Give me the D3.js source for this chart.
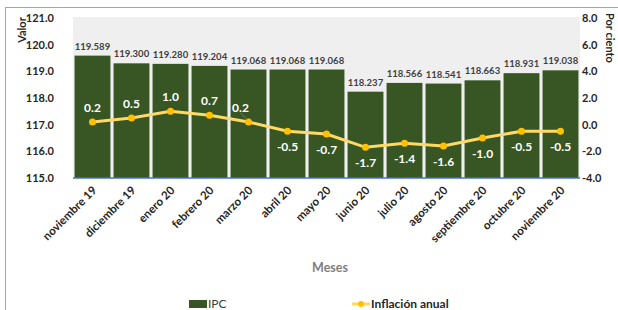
<!DOCTYPE html>
<html>
<head>
<meta charset="utf-8">
<script src="https://cdn.jsdelivr.net/npm/d3@7"></script>
<style>
  body { margin: 0; background: #fff; }
  svg { font-family: Lato, "Open Sans", sans-serif; }
</style>
</head>
<body>
<div id="chart"></div>
<script>
// chart data
const months = ['noviembre 19', 'diciembre 19', 'enero 20', 'febrero 20', 'marzo 20', 'abril 20',
  'mayo 20', 'junio 20', 'julio 20', 'agosto 20', 'septiembre 20', 'octubre 20', 'noviembre 20'];
const ipc = [119.589, 119.300, 119.280, 119.204, 119.068, 119.068, 119.068, 118.237, 118.566,
  118.541, 118.663, 118.931, 119.038];
const inflacion = [0.2, 0.5, 1.0, 0.7, 0.2, -0.5, -0.7, -1.7, -1.4, -1.6, -1.0, -0.5, -0.5];
const leftTicks = [115, 116, 117, 118, 119, 120, 121];
const rightTicks = [-4, -2, 0, 2, 4, 6, 8];

const width = 618, height = 310;
const margin = {top: 18, right: 38, bottom: 132, left: 73};

// plain hyphen as minus sign, like the original
const locale = d3.formatLocale({decimal: '.', thousands: ',', grouping: [3], currency: ['', ''], minus: '-'});
const fmt1 = locale.format('.1f');
const fmt3 = locale.format('.3f');

const svg = d3.select('#chart').append('svg')
  .attr('width', width)
  .attr('height', height);

// outer frame (only left and top edges visible in crop)
svg.append('rect')
  .attr('x', 5.5).attr('y', 7.5)
  .attr('width', 640).attr('height', 340)
  .attr('fill', 'none')
  .attr('stroke', '#a6a6a6');

const x = d3.scaleBand()
  .domain(months)
  .range([margin.left, width - margin.right])
  .paddingInner(0.08)
  .paddingOuter(0.04);

const y = d3.scaleLinear().domain([115, 121]).range([height - margin.bottom, margin.top]);
const y2 = d3.scaleLinear().domain([-4, 8]).range([height - margin.bottom, margin.top]);

// plot background
svg.append('rect')
  .attr('x', margin.left).attr('y', margin.top - 1)
  .attr('width', width - margin.right - margin.left)
  .attr('height', height - margin.bottom - margin.top + 1)
  .attr('fill', '#efefef');

// bars
svg.append('g').selectAll('rect')
  .data(ipc)
  .enter().append('rect')
  .attr('x', (d, i) => x(months[i]))
  .attr('y', d => y(d))
  .attr('width', x.bandwidth())
  .attr('height', d => y(115) - y(d))
  .attr('fill', '#375623');

// bar labels
svg.append('g').selectAll('text')
  .data(ipc)
  .enter().append('text')
  .attr('x', (d, i) => x(months[i]) + x.bandwidth() / 2)
  .attr('y', d => y(d) - 6)
  .attr('text-anchor', 'middle')
  .attr('font-size', 9.5)
  .attr('font-weight', 'bold')
  .attr('fill', '#404040')
  .text(d => fmt3(d));

// baseline
svg.append('line')
  .attr('x1', margin.left).attr('x2', width - margin.right)
  .attr('y1', y(115)).attr('y2', y(115))
  .attr('stroke', '#4472c4')
  .attr('stroke-width', 1.5);

// left axis
const leftAxis = svg.append('g')
  .attr('transform', `translate(${margin.left - 16},0)`)
  .call(d3.axisLeft(y).tickValues(leftTicks).tickFormat(fmt1).tickSize(0));
leftAxis.select('.domain').remove();
leftAxis.selectAll('text')
  .attr('font-family', 'Lato, sans-serif')
  .attr('font-size', 11)
  .attr('font-weight', 'bold')
  .attr('fill', '#262626');

// right axis
const rightAxis = svg.append('g')
  .attr('transform', `translate(${width - margin.right},0)`)
  .call(d3.axisRight(y2).tickValues(rightTicks).tickFormat(fmt1).tickSize(0));
rightAxis.select('.domain').remove();
rightAxis.selectAll('text')
  .attr('x', 2)
  .attr('font-family', 'Lato, sans-serif')
  .attr('font-size', 11)
  .attr('font-weight', 'bold')
  .attr('fill', '#262626');

// month labels
svg.append('g').selectAll('text')
  .data(months)
  .enter().append('text')
  .attr('transform', d => `translate(${x(d) + x.bandwidth() / 2 + 5},${y(115) + 13}) rotate(-45)`)
  .attr('text-anchor', 'end')
  .attr('font-size', 11.5)
  .attr('font-weight', 'bold')
  .attr('fill', '#262626')
  .text(d => d);

// line series
const line = d3.line()
  .x((d, i) => x(months[i]) + x.bandwidth() / 2)
  .y(d => y2(d));

svg.append('path')
  .datum(inflacion)
  .attr('d', line)
  .attr('fill', 'none')
  .attr('stroke', '#ffd966')
  .attr('stroke-width', 3);

svg.append('g').selectAll('circle')
  .data(inflacion)
  .enter().append('circle')
  .attr('cx', (d, i) => x(months[i]) + x.bandwidth() / 2)
  .attr('cy', d => y2(d))
  .attr('r', 3.5)
  .attr('fill', '#ffc000');

// leader line for marzo label
const mx = x(months[4]) + x.bandwidth() / 2;
svg.append('line')
  .attr('x1', mx - 1).attr('y1', y2(inflacion[4]) - 2)
  .attr('x2', mx - 8).attr('y2', y2(inflacion[4]) - 9)
  .attr('stroke', '#7f7f7f')
  .attr('stroke-width', 0.8);

// line labels
svg.append('g').selectAll('text')
  .data(inflacion)
  .enter().append('text')
  .attr('x', (d, i) => x(months[i]) + x.bandwidth() / 2 + (i === 4 ? -8 : 0))
  .attr('y', (d, i) => d >= 0 ? y2(d) - 10 : y2(d) + 20)
  .attr('text-anchor', 'middle')
  .attr('font-size', 12)
  .attr('font-weight', 'bold')
  .attr('fill', '#ffffff')
  .text(d => fmt1(d));

// axis titles
svg.append('text')
  .attr('transform', 'translate(26,30) rotate(-90)')
  .attr('text-anchor', 'middle')
  .attr('font-size', 11)
  .attr('font-weight', 'bold')
  .attr('fill', '#262626')
  .text('Valor');

svg.append('text')
  .attr('transform', 'translate(606,13) rotate(90)')
  .attr('text-anchor', 'start')
  .attr('font-size', 11)
  .attr('font-weight', 'bold')
  .attr('fill', '#262626')
  .text('Por ciento');

svg.append('text')
  .attr('x', 330).attr('y', 272)
  .attr('text-anchor', 'middle')
  .attr('font-size', 12.5)
  .attr('font-weight', 'bold')
  .attr('fill', '#808080')
  .text('Meses');

// legend
const legend = svg.append('g');
legend.append('rect')
  .attr('x', 189).attr('y', 300)
  .attr('width', 18).attr('height', 8)
  .attr('fill', '#375623');
legend.append('text')
  .attr('x', 208).attr('y', 308)
  .attr('font-size', 12)
  .attr('fill', '#404040')
  .text('IPC');
legend.append('line')
  .attr('x1', 352).attr('x2', 370)
  .attr('y1', 304).attr('y2', 304)
  .attr('stroke', '#ffd966')
  .attr('stroke-width', 3);
legend.append('circle')
  .attr('cx', 361).attr('cy', 304).attr('r', 3)
  .attr('fill', '#ffc000');
legend.append('text')
  .attr('x', 371).attr('y', 308)
  .attr('font-size', 12)
  .attr('font-weight', 'bold')
  .attr('fill', '#262626')
  .text('Inflación anual');
</script>
</body>
</html>
